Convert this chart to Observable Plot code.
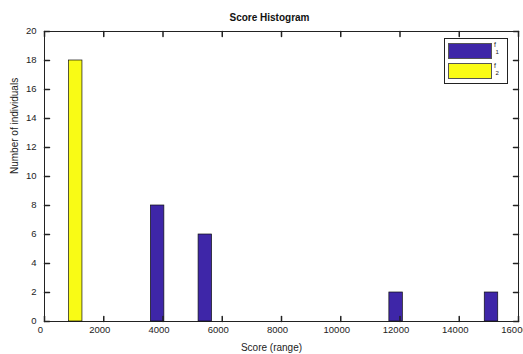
<!DOCTYPE html>
<html>
<head>
<meta charset="utf-8">
<script src="https://cdn.jsdelivr.net/npm/d3@7"></script>
<script src="https://cdn.jsdelivr.net/npm/@observablehq/plot@0.6"></script>
<style>
  html, body { margin: 0; padding: 0; background: #fff; overflow: hidden; }
  #wrap { position: relative; width: 523px; height: 354px; font-family: "Liberation Sans", Arial, sans-serif; }
  #wrap svg { overflow: visible; }
  .legend-box { position: absolute; box-sizing: border-box; background: #fff; border: 1px solid #222; }
  .sw { position: absolute; box-sizing: border-box; border: 1px solid #555; }
  .lab { position: absolute; font-size: 7px; line-height: 1; color: #222; }
  .sub { position: absolute; font-size: 6px; line-height: 1; color: #222; }
</style>
</head>
<body>
<div id="wrap"></div>
<script>
// ---- data ----
const binCenters = [826, 2436, 4046, 5656, 7266, 8876, 10486, 12096, 13706, 15316];
const f1Counts   = [0, 0, 8, 6, 0, 0, 0, 2, 0, 2];
const f2Counts   = [18, 0, 0, 0, 0, 0, 0, 0, 0, 0];
const seriesNames = ["f1", "f2"];
const seriesColors = ["#3e26a8", "#f9fb15"];
const barWidth = 455; // width of each bar in score units
const xTicks = [0, 2000, 4000, 6000, 8000, 10000, 12000, 14000, 16000];
const yTicks = [0, 2, 4, 6, 8, 10, 12, 14, 16, 18, 20];
const titleText = "Score Histogram";
const xLabel = "Score (range)";
const yLabel = "Number of individuals";

const rows = [];
binCenters.forEach((c, i) => {
  rows.push({series: "f1", x1: c - barWidth, x2: c, count: f1Counts[i]});
  rows.push({series: "f2", x1: c, x2: c + barWidth, count: f2Counts[i]});
});

const tickShape = {draw(ctx, l) { ctx.moveTo(0, 0); ctx.lineTo(0, -l); }};
const font = "Liberation Sans, Arial, sans-serif";

const chart = Plot.plot({
  width: 523,
  height: 354,
  marginLeft: 44,
  marginRight: 5,
  marginTop: 31,
  marginBottom: 33,
  style: {fontFamily: font, background: "#fff", color: "#222"},
  x: {domain: [0, 16000]},
  y: {domain: [0, 20]},
  color: {domain: seriesNames, range: seriesColors},
  marks: [
    Plot.frame({stroke: "#222", strokeWidth: 1}),
    Plot.rectY(rows, {x1: "x1", x2: "x2", y1: 0, y2: "count", fill: "series", stroke: "#111", strokeWidth: 0.7}),
    // inward ticks on all four sides
    Plot.vector(xTicks, {x: d => d, frameAnchor: "bottom", length: 5, rotate: 0, anchor: "start", shape: tickShape, stroke: "#222"}),
    Plot.vector(xTicks, {x: d => d, frameAnchor: "top", length: 5, rotate: 180, anchor: "start", shape: tickShape, stroke: "#222"}),
    Plot.vector(yTicks, {y: d => d, frameAnchor: "left", length: 5, rotate: 90, anchor: "start", shape: tickShape, stroke: "#222"}),
    Plot.vector(yTicks, {y: d => d, frameAnchor: "right", length: 5, rotate: -90, anchor: "start", shape: tickShape, stroke: "#222"}),
    Plot.axisX({ticks: xTicks, tickSize: 0, tickPadding: 5, fontSize: 9.5, dx: -4, label: null, tickFormat: d => String(d)}),
    Plot.axisY({ticks: yTicks, tickSize: 0, tickPadding: 8, fontSize: 9.5, dy: -1, label: null}),
    Plot.text([titleText], {text: d => d, frameAnchor: "top", lineAnchor: "bottom", dy: -11, dx: -12, fontSize: 10, fontWeight: "bold", fill: "#111"}),
    Plot.text([xLabel], {text: d => d, frameAnchor: "bottom", lineAnchor: "bottom", dy: 29, dx: -10, fontSize: 10, fill: "#222"}),
    Plot.text([yLabel], {text: d => d, frameAnchor: "left", lineAnchor: "bottom", rotate: -90, dx: -27, dy: -2.5, fontSize: 10, fill: "#222"})
  ]
});

const wrap = document.getElementById("wrap");
wrap.appendChild(chart);

// legend overlay
const legend = document.createElement("div");
legend.innerHTML = `
  <div class="legend-box" style="left:444px;top:38px;width:64px;height:46px;"></div>
  <div class="sw" style="left:448px;top:43px;width:44px;height:16px;background:${seriesColors[0]}"></div>
  <div class="sw" style="left:448px;top:63px;width:44px;height:16px;background:${seriesColors[1]}"></div>
  <div class="lab" style="left:494px;top:41px;">f</div>
  <div class="sub" style="left:495.5px;top:48.5px;">1</div>
  <div class="lab" style="left:494px;top:62px;">f</div>
  <div class="sub" style="left:495.5px;top:69.5px;">2</div>`;
wrap.appendChild(legend);
</script>
</body>
</html>
